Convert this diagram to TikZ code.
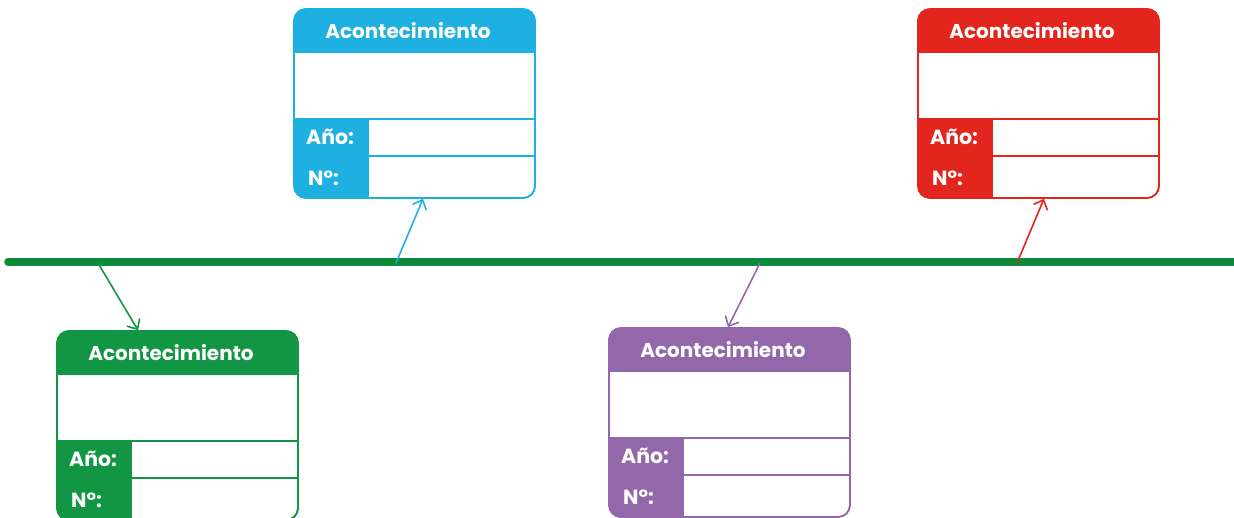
\documentclass[tikz,border=0pt]{standalone}
\usepackage{fontspec}
\setmainfont{Poppins}
\usetikzlibrary{arrows.meta}

\definecolor{lineGreen}{RGB}{12,138,58}
\definecolor{cardBlue}{RGB}{30,176,224}
\definecolor{cardRed}{RGB}{226,38,30}
\definecolor{cardGreen}{RGB}{18,150,68}
\definecolor{cardPurple}{RGB}{146,104,170}

\tikzset{
  cardframe/.style={draw=#1, line width=1.6pt, rounded corners=12pt, minimum width=241pt, minimum height=189pt, inner sep=0pt},
  cardtitle/.style={text=white, font=\bfseries\fontsize{20}{22}\selectfont, inner sep=0pt},
  cardlabel/.style={text=white, font=\bfseries\fontsize{20.5}{22}\selectfont, anchor=west, inner sep=0pt},
  eventarrow/.style={draw=#1, line width=1.6pt, -{Straight Barb[length=8pt,width=15pt]}},
  timeline/.style={draw=lineGreen, line width=7.5pt, line cap=round},
}

% card: name, colour, left, top
\newcommand{\eventcard}[4]{%
  \node[cardframe=#2] (#1) at (#3+120.5,#4+94.5) {};
  \begin{scope}
    \clip[rounded corners=12pt] (#3,#4) rectangle (#3+241,#4+189);
    \fill[#2] (#3,#4) rectangle (#3+241,#4+43);
    \fill[#2] (#3,#4+110) rectangle (#3+75,#4+189);
  \end{scope}
  \draw[#2, line width=1.6pt] (#3,#4+43) -- (#3+241,#4+43)
    (#3,#4+110) -- (#3+241,#4+110)
    (#3+75,#4+147) -- (#3+241,#4+147);
  \draw[cardframe=#2, fill=none] (#3,#4) rectangle (#3+241,#4+189);
  \node[cardtitle] (#1 title) at (#3+114,#4+22) {Acontecimiento};
  \node[cardlabel] (#1 year) at (#3+12,#4+128) {Año:};
  \node[cardlabel] (#1 num) at (#3+14,#4+169) {N°:};
}

\begin{document}
\begin{tikzpicture}[x=1pt,y=1pt,yscale=-1,xscale=1]
\useasboundingbox (0,0) rectangle (1234,518);

%Shape: time line
\coordinate (line start) at (8,262);
\coordinate (line end) at (1240,262);
\draw[timeline] (line start) -- (line end);

%Shape: cards
\eventcard{blue}{cardBlue}{294}{9}
\eventcard{red}{cardRed}{918}{9}
\eventcard{green}{cardGreen}{57}{331}
\eventcard{purple}{cardPurple}{609}{328}

%Shape: arrows
\coordinate (green root) at (98,263);
\coordinate (blue root) at (396,263);
\coordinate (purple root) at (760,263);
\coordinate (red root) at (1017,263);
\draw[eventarrow=cardGreen] (green root) -- ([xshift=-39.5pt]green.north);
\draw[eventarrow=cardBlue] (blue root) -- ([xshift=8.5pt]blue.south);
\draw[eventarrow=cardPurple] (purple root) -- ([xshift=-1.5pt]purple.north);
\draw[eventarrow=cardRed] (red root) -- ([xshift=5.5pt]red.south);

\end{tikzpicture}
\end{document}
